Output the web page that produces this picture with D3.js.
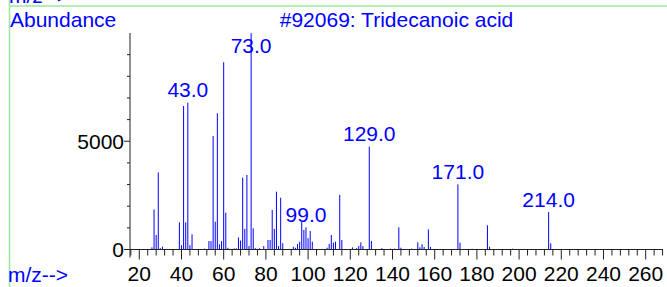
<!DOCTYPE html>
<html>
<head>
<meta charset="utf-8">
<script src="https://cdn.jsdelivr.net/npm/d3@7"></script>
<style>
  html, body { margin: 0; padding: 0; background: #fff; }
  svg { display: block; font-family: "Liberation Sans", Arial, sans-serif; }
</style>
</head>
<body>
<div id="chart"></div>
<script>
// m/z values and abundances
var mz = [26, 27, 28, 29, 30, 31, 39, 40, 41, 42, 43, 44, 45, 50, 51, 53, 54, 55, 56, 57,
  58, 59, 60, 61, 62, 63, 65, 66, 67, 68, 69, 70, 71, 72, 73, 74, 75, 76, 77, 79,
  81, 82, 83, 84, 85, 86, 87, 88, 91, 93, 94, 95, 96, 97, 98, 99, 100, 101, 102, 107,
  109, 110, 111, 112, 113, 115, 116, 121, 123, 124, 125, 126, 129, 130, 135, 139, 141, 143, 144, 149,
  152, 153, 154, 155, 157, 158, 171, 172, 177, 178, 185, 186, 197, 214, 215];
var abundance = [100, 1850, 670, 3560, 60, 130, 1255, 200, 6630, 1255, 6780, 200, 700, 20, 40, 390, 390, 5240, 1285, 6290,
  240, 390, 8650, 1700, 80, 30, 50, 50, 560, 410, 3320, 950, 3440, 160, 9990, 980, 60, 30, 60, 160,
  440, 440, 1825, 950, 2670, 160, 2390, 290, 30, 130, 80, 250, 360, 1285, 900, 1025, 520, 855, 360, 30,
  85, 250, 670, 315, 360, 2520, 440, 100, 60, 160, 330, 160, 4750, 390, 60, 40, 40, 1025, 85, 40,
  330, 100, 240, 120, 930, 120, 3010, 315, 30, 30, 1120, 130, 40, 1730, 285];

// labelled peaks
var peakLabels = [43, 73, 99, 129, 171, 214];

// axis ticks
var xTickLabels = [20, 40, 60, 80, 100, 120, 140, 160, 180, 200, 220, 240, 260];
var yTickLabels = [0, 5000];

var title = "#92069: Tridecanoic acid";

var width = 667, height = 287;

var svg = d3.select("#chart")
  .append("svg")
  .attr("width", width)
  .attr("height", height);

var x = d3.scaleLinear().domain([15.6, 268.2]).range([130, 663]);
var y = d3.scaleLinear().domain([0, 10000]).range([249.5, 33]);

// green frame
svg.append("line")
  .attr("x1", 9).attr("x2", width).attr("y1", 6).attr("y2", 6)
  .attr("stroke", "#9be89b").attr("stroke-width", 1.5);
svg.append("line")
  .attr("x1", 9.5).attr("x2", 9.5).attr("y1", 0).attr("y2", height)
  .attr("stroke", "#9be89b").attr("stroke-width", 1.5);

// leftover label from the panel above
svg.append("text")
  .attr("x", 9).attr("y", 3)
  .attr("fill", "#0000ff").style("font-size", "21px")
  .text("m/z-->");

svg.append("text")
  .attr("x", 10).attr("y", 26.5)
  .attr("fill", "#0000ff").style("font-size", "21px")
  .text("Abundance");

svg.append("text")
  .attr("x", (x.range()[0] + x.range()[1]) / 2).attr("y", 27)
  .attr("text-anchor", "middle")
  .attr("fill", "#0000ff").style("font-size", "21px")
  .text(title);

svg.append("text")
  .attr("x", 8).attr("y", 282)
  .attr("fill", "#0000ff").style("font-size", "21px")
  .text("m/z-->");

// spectrum bars
svg.append("g")
  .selectAll("line")
  .data(mz)
  .enter()
  .append("line")
  .attr("x1", function(d) { return x(d); })
  .attr("x2", function(d) { return x(d); })
  .attr("y1", y(0))
  .attr("y2", function(d, i) { return y(abundance[i]); })
  .attr("stroke", "#0000ff")
  .attr("stroke-width", 1);

// x axis
var xAxis = svg.append("g");
xAxis.append("line")
  .attr("x1", x.range()[0]).attr("x2", x.range()[1])
  .attr("y1", y(0)).attr("y2", y(0))
  .attr("stroke", "#222");
xAxis.selectAll(".minor")
  .data(d3.range(16, 269, 4))
  .enter()
  .append("line")
  .attr("x1", function(d) { return x(d); })
  .attr("x2", function(d) { return x(d); })
  .attr("y1", y(0))
  .attr("y2", function(d) { return y(0) + (d % 20 === 0 ? 10 : 6); })
  .attr("stroke", "#222");
xAxis.selectAll(".lbl")
  .data(xTickLabels)
  .enter()
  .append("text")
  .attr("x", function(d) { return x(d); })
  .attr("y", 281)
  .attr("text-anchor", "middle")
  .attr("fill", "#000")
  .style("font-size", "21px")
  .text(function(d) { return d; });

// y axis
var yAxis = svg.append("g");
yAxis.append("line")
  .attr("x1", x.range()[0]).attr("x2", x.range()[0])
  .attr("y1", y.range()[1]).attr("y2", y(0) + 8)
  .attr("stroke", "#222");
yAxis.selectAll(".tick")
  .data(d3.range(0, 10000, 1000))
  .enter()
  .append("line")
  .attr("x1", function(d) { return x.range()[0] - (d % 5000 === 0 ? 6 : 3); })
  .attr("x2", x.range()[0])
  .attr("y1", function(d) { return y(d); })
  .attr("y2", function(d) { return y(d); })
  .attr("stroke", "#222");
yAxis.selectAll(".lbl")
  .data(yTickLabels)
  .enter()
  .append("text")
  .attr("x", x.range()[0] - 6)
  .attr("y", function(d) { return y(d); })
  .attr("dy", "0.35em")
  .attr("text-anchor", "end")
  .attr("fill", "#000")
  .style("font-size", "21px")
  .text(function(d) { return d; });

// peak labels
svg.append("g")
  .selectAll("text")
  .data(peakLabels)
  .enter()
  .append("text")
  .attr("x", function(d) { return x(d); })
  .attr("y", function(d) {
    var v = abundance[mz.indexOf(d)];
    return Math.max(y(v) - 5.5, y.range()[1] + 20);
  })
  .attr("text-anchor", "middle")
  .attr("fill", "#0000ff")
  .style("font-size", "21px")
  .text(function(d) { return d.toFixed(1); });
</script>
</body>
</html>
